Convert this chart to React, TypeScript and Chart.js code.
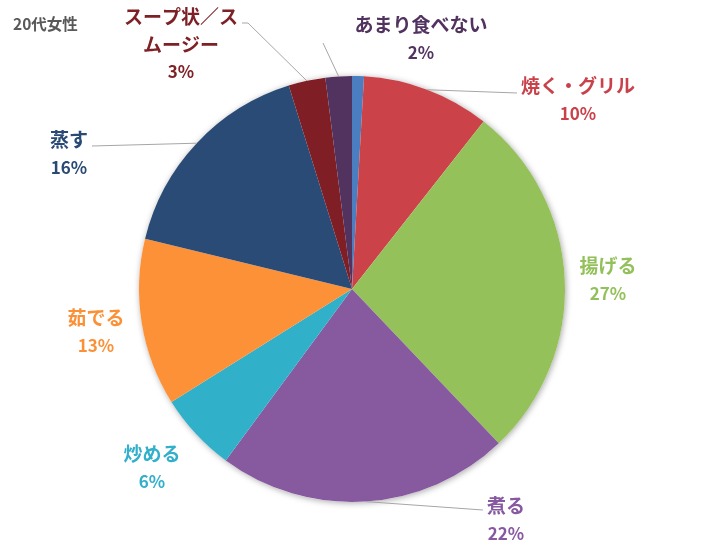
import { useEffect, useRef } from "react";
import Chart from "chart.js/auto";

const categories = ["その他", "焼く・グリル", "揚げる", "煮る", "炒める", "茹でる", "蒸す", "スープ状／スムージー", "あまり食べない"];
const values = [0.9, 9.7, 27.3, 22.2, 6.0, 12.7, 16.4, 2.8, 2.0];
const percentLabels = ["", "10%", "27%", "22%", "6%", "13%", "16%", "3%", "2%"];
const labelLines = [[], ["焼く・グリル"], ["揚げる"], ["煮る"], ["炒める"], ["茹でる"], ["蒸す"], ["スープ状／ス", "ムージー"], ["あまり食べない"]];
const sliceColors = ["#4A7EC0", "#CB4249", "#95C15A", "#875AA0", "#31B0CA", "#FD9138", "#2A4B75", "#7F1F25", "#52325F"];
const textColors = ["#4A7EC0", "#C9424A", "#93C05A", "#8759A0", "#32AFCA", "#FB9137", "#2A4A74", "#7E2025", "#52325F"];

// label anchor (centre of first line) and leader line end points
const labelPos: ({ x: number; y: number } | null)[] = [
  null,
  { x: 578, y: 86 },
  { x: 608, y: 266 },
  { x: 506, y: 506 },
  { x: 152, y: 454 },
  { x: 96, y: 318 },
  { x: 69, y: 140 },
  { x: 181, y: 17 },
  { x: 421, y: 25 },
];
const leaderEnds: number[][][] = [
  [],
  [[517, 93]],
  [],
  [[483, 510]],
  [],
  [],
  [[92, 146]],
  [[248, 23], [242, 23]],
  [[323, 43]],
];

const labelPlugin = {
  id: "sliceLabels",
  beforeDatasetsDraw(chart: any) {
    const arc = chart.getDatasetMeta(0).data[0];
    if (!arc) return;
    const ctx = chart.ctx;
    ctx.save();
    ctx.shadowColor = "rgba(0,0,0,0.35)";
    ctx.shadowBlur = 6;
    ctx.shadowOffsetX = 1;
    ctx.shadowOffsetY = 1;
    ctx.fillStyle = "#ffffff";
    ctx.beginPath();
    ctx.arc(arc.x, arc.y, arc.outerRadius, 0, Math.PI * 2);
    ctx.fill();
    ctx.restore();
  },
  afterDatasetsDraw(chart: any) {
    const ctx = chart.ctx;
    const meta = chart.getDatasetMeta(0);
    ctx.save();
    meta.data.forEach((arc: any, i: number) => {
      const ends = leaderEnds[i];
      if (ends.length) {
        const mid = (arc.startAngle + arc.endAngle) / 2;
        ctx.strokeStyle = "#A6A6A6";
        ctx.lineWidth = 1;
        ctx.beginPath();
        ctx.moveTo(arc.x + Math.cos(mid) * arc.outerRadius, arc.y + Math.sin(mid) * arc.outerRadius);
        ends.forEach((p) => ctx.lineTo(p[0], p[1]));
        ctx.stroke();
      }
      const pos = labelPos[i];
      if (!pos) return;
      ctx.fillStyle = textColors[i];
      ctx.textAlign = "center";
      ctx.textBaseline = "middle";
      const lines = [...labelLines[i], percentLabels[i]];
      lines.forEach((t, k) => {
        ctx.font = k === lines.length - 1 ? "bold 17px 'Noto Sans CJK JP', sans-serif" : "bold 19px 'Noto Sans CJK JP', sans-serif";
        ctx.fillText(t, pos.x, pos.y + k * 27.5);
      });
    });
    ctx.restore();
  },
};

const App = () => {
  const chartRef = useRef<HTMLCanvasElement | null>(null);

  useEffect(() => {
    if (!chartRef.current) return;
    const ctx = chartRef.current.getContext("2d");
    if (!ctx) return;

    const chart = new Chart(ctx, {
      type: "pie",
      data: {
        labels: categories,
        datasets: [
          {
            data: values,
            backgroundColor: sliceColors,
            borderWidth: 0,
          },
        ],
      },
      options: {
        responsive: false,
        animation: false,
        layout: { padding: { top: 76, bottom: 46, left: 139, right: 139 } },
        plugins: {
          legend: { display: false },
          tooltip: { enabled: false },
        },
      },
      plugins: [labelPlugin],
    });

    return () => {
      chart.destroy();
    };
  }, []);

  return (
    <div style={{ position: "absolute", left: 0, top: 0, width: 704, height: 548, background: "#fff" }}>
      <canvas ref={chartRef} width={704} height={548} />
      <div
        style={{
          position: "absolute",
          left: 13,
          top: 12,
          fontFamily: "'Noto Sans CJK JP', sans-serif",
          fontWeight: 700,
          fontSize: 15.5,
          lineHeight: "22px",
          color: "#595959",
        }}
      >
        20代女性
      </div>
    </div>
  );
};

export default App;
